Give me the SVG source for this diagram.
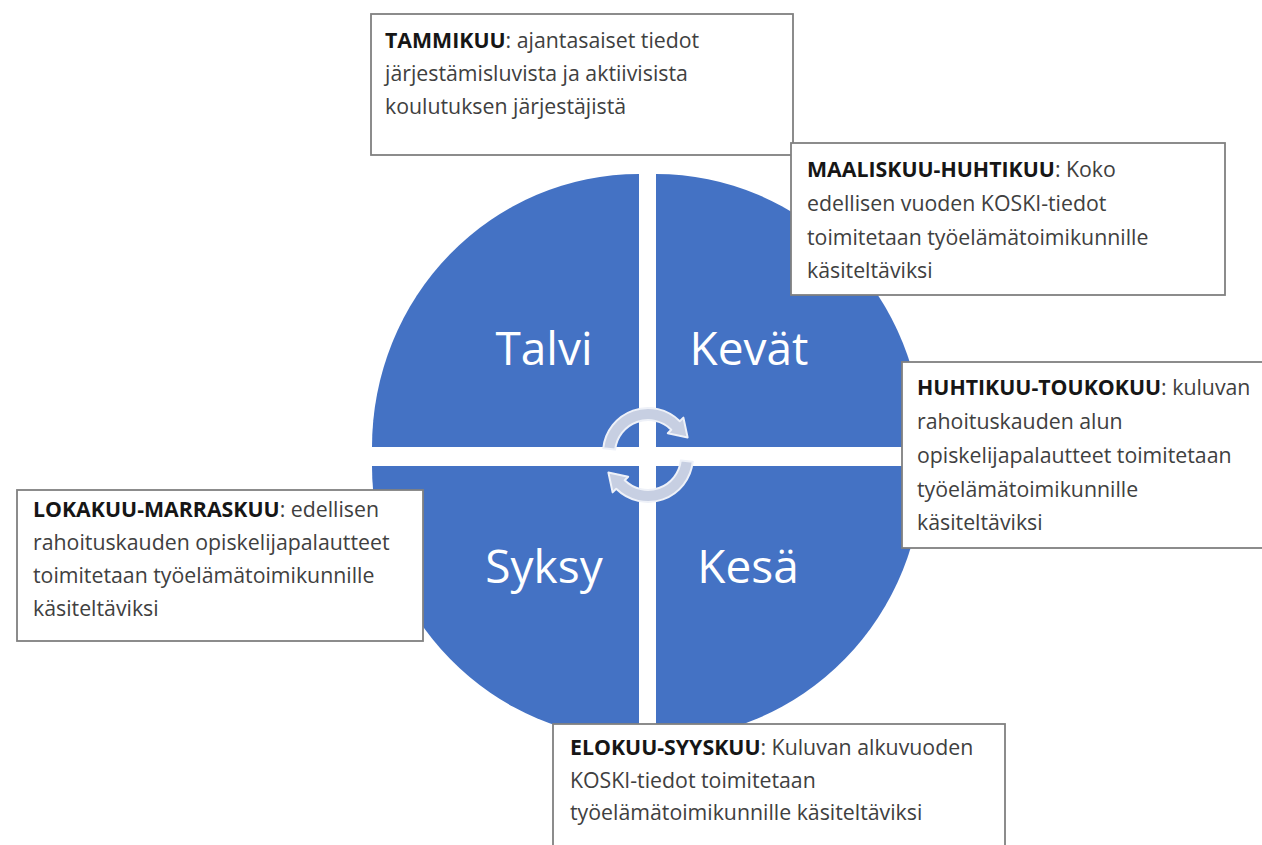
<svg xmlns="http://www.w3.org/2000/svg" width="1262" height="845" viewBox="0 0 1262 845">
<style>
.q{fill:#4472C4}
.ql{font-family:"Open Sans","Liberation Sans",sans-serif;font-size:46px;fill:#ffffff;text-anchor:middle}
.box{fill:#ffffff;stroke:#808080;stroke-width:1.8}
.t{font-family:"Open Sans","Liberation Sans",sans-serif;font-size:21.3px;fill:#404040}
.b{font-weight:bold;fill:#161616}
.arr{fill:#c7cfe2;stroke:#eef1f8;stroke-width:2;stroke-linejoin:round}
</style>
<rect x="0" y="0" width="1262" height="845" fill="#ffffff"/>
<g id="circle">
<path class="q" d="M639,447 L372,447 A267 273 0 0 1 639,174 Z"/>
<path class="q" d="M656,447 L656,174 A267 273 0 0 1 923,447 Z"/>
<path class="q" d="M656,466 L923,466 A267 273 0 0 1 656,739 Z"/>
<path class="q" d="M639,466 L639,739 A267 273 0 0 1 372,466 Z"/>
</g>
<g id="talvi"><text class="ql" x="544" y="365">Talvi</text></g>
<g id="kevat"><text class="ql" x="749" y="365">Kevät</text></g>
<g id="syksy"><text class="ql" x="544" y="583">Syksy</text></g>
<g id="kesa"><text class="ql" x="748" y="583">Kesä</text></g>
<g id="connectors">
<path class="arr" d="M603.25,448.3 A45 45 0 0 1 679.8,421.2 L683.4,417.6 L687.6,437.4 L667.8,433.2 L671.3,429.7 A33 33 0 0 0 615.2,449.55 Z"/>
<path class="arr" transform="rotate(180 648 455)" d="M603.25,448.3 A45 45 0 0 1 679.8,421.2 L683.4,417.6 L687.6,437.4 L667.8,433.2 L671.3,429.7 A33 33 0 0 0 615.2,449.55 Z"/>
</g>
<g id="tammikuu">
<rect class="box" x="371" y="14" width="422" height="141"/>
<text class="t" x="385" y="48"><tspan class="b">TAMMIKUU</tspan>: ajantasaiset tiedot</text>
<text class="t" x="385" y="81">järjestämisluvista ja aktiivisista</text>
<text class="t" x="385" y="114">koulutuksen järjestäjistä</text>
</g>
<g id="maaliskuu-huhtikuu">
<rect class="box" x="791" y="143" width="434" height="152"/>
<text class="t" x="807" y="177"><tspan class="b">MAALISKUU-HUHTIKUU</tspan>: Koko</text>
<text class="t" x="807" y="211">edellisen vuoden KOSKI-tiedot</text>
<text class="t" x="807" y="245">toimitetaan työelämätoimikunnille</text>
<text class="t" x="807" y="278">käsiteltäviksi</text>
</g>
<g id="huhtikuu-toukokuu">
<rect class="box" x="902" y="362" width="362" height="186"/>
<text class="t" x="917" y="395"><tspan class="b">HUHTIKUU-TOUKOKUU</tspan>: kuluvan</text>
<text class="t" x="917" y="429">rahoituskauden alun</text>
<text class="t" x="917" y="463">opiskelijapalautteet toimitetaan</text>
<text class="t" x="917" y="497">työelämätoimikunnille</text>
<text class="t" x="917" y="530">käsiteltäviksi</text>
</g>
<g id="lokakuu-marraskuu">
<rect class="box" x="17" y="490" width="406" height="151"/>
<text class="t" x="33" y="517"><tspan class="b">LOKAKUU-MARRASKUU</tspan>: edellisen</text>
<text class="t" x="33" y="550">rahoituskauden opiskelijapalautteet</text>
<text class="t" x="33" y="583">toimitetaan työelämätoimikunnille</text>
<text class="t" x="33" y="616">käsiteltäviksi</text>
</g>
<g id="elokuu-syyskuu">
<rect class="box" x="553" y="724" width="452" height="130"/>
<text class="t" x="570" y="755"><tspan class="b">ELOKUU-SYYSKUU</tspan>: Kuluvan alkuvuoden</text>
<text class="t" x="570" y="788">KOSKI-tiedot toimitetaan</text>
<text class="t" x="570" y="820">työelämätoimikunnille käsiteltäviksi</text>
</g>
</svg>
